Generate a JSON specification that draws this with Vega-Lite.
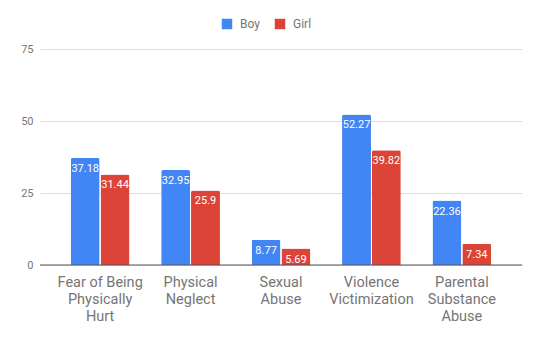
{
  "$schema": "https://vega.github.io/schema/vega-lite/v6.json",
  "width": 482,
  "height": 216,
  "autosize": "none",
  "padding": {"left": 40, "top": 49, "right": 18, "bottom": 77},
  "background": "white",
  "config": {
    "font": "Roboto",
    "view": {"stroke": null}
  },
  "data": {
    "values": [
      {"category": "Fear of Being Physically Hurt", "group": "Boy", "value": 37.18},
      {"category": "Fear of Being Physically Hurt", "group": "Girl", "value": 31.44},
      {"category": "Physical Neglect", "group": "Boy", "value": 32.95},
      {"category": "Physical Neglect", "group": "Girl", "value": 25.9},
      {"category": "Sexual Abuse", "group": "Boy", "value": 8.77},
      {"category": "Sexual Abuse", "group": "Girl", "value": 5.69},
      {"category": "Violence Victimization", "group": "Boy", "value": 52.27},
      {"category": "Violence Victimization", "group": "Girl", "value": 39.82},
      {"category": "Parental Substance Abuse", "group": "Boy", "value": 22.36},
      {"category": "Parental Substance Abuse", "group": "Girl", "value": 7.34}
    ]
  },
  "encoding": {
    "x": {
      "field": "category",
      "type": "nominal",
      "sort": null,
      "scale": {"paddingInner": 0.35, "paddingOuter": 0.34},
      "axis": {
        "title": null,
        "domain": false,
        "ticks": false,
        "labelAngle": 0,
        "labelFontSize": 14.5,
        "labelColor": "#757575",
        "labelPadding": 10,
        "labelLineHeight": 17,
        "labelExpr": "datum.label == 'Fear of Being Physically Hurt' ? ['Fear of Being', 'Physically', 'Hurt'] : datum.label == 'Physical Neglect' ? ['Physical', 'Neglect'] : datum.label == 'Sexual Abuse' ? ['Sexual', 'Abuse'] : datum.label == 'Violence Victimization' ? ['Violence', 'Victimization'] : ['Parental', 'Substance', 'Abuse']"
      }
    },
    "xOffset": {
      "field": "group",
      "type": "nominal",
      "scale": {"paddingInner": 0.03}
    },
    "y": {
      "field": "value",
      "type": "quantitative",
      "scale": {"domain": [0, 75]},
      "axis": {
        "title": null,
        "values": [0, 25, 50, 75],
        "domain": false,
        "ticks": false,
        "labelFontSize": 11,
        "labelColor": "#757575",
        "labelPadding": 7,
        "gridColor": "#dddddd",
        "gridWidth": 1
      }
    }
  },
  "layer": [
    {
      "mark": {"type": "bar", "cornerRadiusEnd": 2},
      "encoding": {
        "color": {
          "field": "group",
          "type": "nominal",
          "scale": {"domain": ["Boy", "Girl"], "range": ["#4285F4", "#DB4437"]},
          "legend": {
            "title": null,
            "orient": "none",
            "direction": "horizontal",
            "legendX": 181,
            "legendY": -31,
            "symbolType": "square",
            "symbolSize": 110,
            "symbolStrokeWidth": 0,
            "symbolOpacity": 1,
            "labelFontSize": 12,
            "labelColor": "#757575",
            "columnPadding": 14,
            "labelOffset": 7
          }
        }
      }
    },
    {
      "mark": {"type": "text", "baseline": "top", "dy": 5, "fontSize": 11, "color": "white"},
      "encoding": {
        "text": {"field": "value", "type": "quantitative"}
      }
    },
    {
      "data": {"values": [{"zero": 0}]},
      "mark": {"type": "rule", "color": "#555555", "strokeWidth": 1},
      "encoding": {
        "y": {"field": "zero", "type": "quantitative"},
        "x": null,
        "xOffset": null
      }
    }
  ]
}
